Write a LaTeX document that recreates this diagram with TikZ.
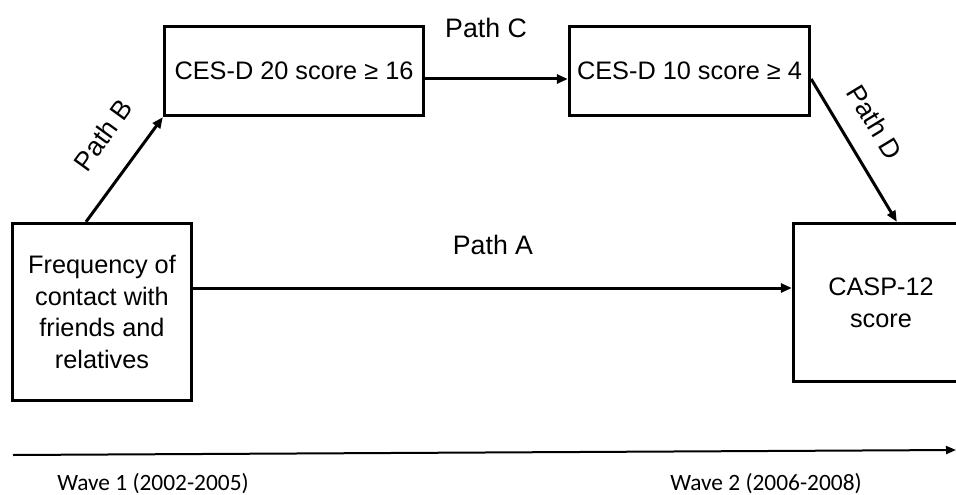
\documentclass[tikz,border=0pt]{standalone}
\usepackage{fontspec}
\setmainfont{Liberation Sans}
\newfontfamily\wavefont{Carlito}
\usetikzlibrary{arrows.meta,calc}
\begin{document}
\begin{tikzpicture}[x=1pt,y=-1pt,
  box/.style={draw, line width=3.3pt, align=center, inner sep=0pt,
    font=\fontsize{25.3}{31.7}\selectfont},
  conn/.style={line width=3pt, -{Triangle[length=11pt,width=9pt]}},
  lbl/.style={inner sep=0pt, font=\fontsize{26.7}{30}\selectfont},
  wave/.style={inner sep=0pt, font=\wavefont\fontsize{23.4}{27}\selectfont},
  timeline/.style={line width=2pt, -{Triangle[length=10pt,width=8pt]}}]
\useasboundingbox (0,0) rectangle (956,495);
\clip (0,0) rectangle (956,495);
% boxes
\node[box, minimum width=179pt, minimum height=177pt] (freq) at (102,312)
  {Frequency of\\contact with\\friends and\\relatives};
\node[box, minimum width=259pt, minimum height=89pt] (c20) at (294,71)
  {CES-D 20 score ≥ 16};
\node[box, minimum width=240pt, minimum height=89pt] (c10) at (689.5,71)
  {CES-D 10 score ≥ 4};
\node[box, minimum width=175pt, minimum height=158pt] (casp) at (881,302.5)
  {CASP-12\\score};
% connectors
\draw[conn] ([xshift=-16pt]freq.north) -- (c20.south west);
\draw[conn] ([yshift=-8pt]c20.east) -- ([yshift=-8pt]c10.west);
\draw[conn] ([yshift=-8pt]c10.east) -- ([xshift=105pt]casp.north west);
\draw[conn] ([yshift=24pt]freq.east) -- ([yshift=24pt]freq.east -| casp.west);
% path labels
\node[lbl, rotate=54] (lb) at (103,135) {Path B};
\node[lbl] (lc) at (486,28) {Path C};
\node[lbl, rotate=-58.8] (ld) at (875,122) {Path D};
\node[lbl] (la) at (493,245) {Path A};
% timeline
\coordinate (t1) at (13,455);
\coordinate (t2) at (956,450);
\draw[timeline] (t1) -- (t2);
\node[wave] (w1) at (153,484) {Wave 1 (2002-2005)};
\node[wave] (w2) at (766,484) {Wave 2 (2006-2008)};
\end{tikzpicture}
\end{document}
